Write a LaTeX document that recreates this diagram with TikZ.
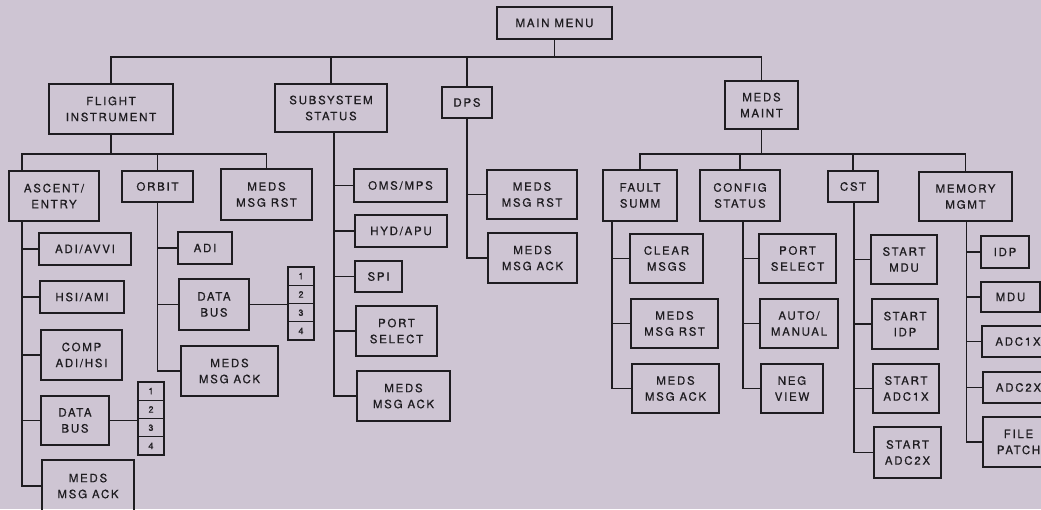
\documentclass[tikz,border=0pt]{standalone}
\usepackage{fontspec}
\setmainfont{TeX Gyre Heros}[LetterSpace=15,FakeBold=0.6]
\usetikzlibrary{calc}
\definecolor{bg}{RGB}{206,197,211}
\definecolor{ink}{RGB}{30,28,32}
\newcommand\mybox[6]{\node[box, minimum width={(#4)-(#2)}, minimum height={(#5)-(#3)}] (#1) at ({((#2)+(#4))/2},{((#3)+(#5))/2}) {#6};}
\begin{document}
\begin{tikzpicture}[x=1pt,y=-1pt,
  box/.style={draw=ink, line width=1.5pt, text=ink, align=center, inner sep=0pt, font=\fontsize{11.5}{16}\selectfont},
  numbox/.style={draw=ink, line width=1.2pt, text=ink, inner sep=0pt, minimum width=26, minimum height=18.25, font=\fontsize{9}{10}\selectfont},
  link/.style={draw=ink, line width=1.6pt}]
\useasboundingbox (0,0) rectangle (1041,509);
\fill[bg] (0,0) rectangle (1041,509);
\clip (0,0) rectangle (1041,509);
% level 0/1
\mybox{main}{497}{7}{612}{39}{MAIN MENU}
\mybox{fi}{49}{84}{173}{134}{FLIGHT\\INSTRUMENT}
\mybox{ss}{275}{84}{387}{132}{SUBSYSTEM\\STATUS}
\mybox{dps}{442}{87}{492}{118}{DPS}
\mybox{mm}{725}{81}{798}{129}{MEDS\\MAINT}
% flight instrument
\mybox{ae}{9}{171}{99}{221}{ASCENT/\\ENTRY}
\mybox{orb}{122}{171}{193}{202}{ORBIT}
\mybox{fmr}{221}{169}{312}{220}{MEDS\\MSG RST}
\mybox{adiavvi}{39}{233}{131}{265}{ADI/AVVI}
\mybox{hsi}{40}{281}{124}{313}{HSI/AMI}
\mybox{comp}{41}{330}{122}{380}{COMP\\ADI/HSI}
\mybox{dba}{41}{396}{109}{445}{DATA\\BUS}
\mybox{acka}{42}{460}{134}{512}{MEDS\\MSG ACK}
\mybox{adi}{178}{232}{232}{264}{ADI}
\mybox{dbb}{179}{279}{249}{330}{DATA\\BUS}
\mybox{ackb}{181}{346}{278}{396}{MEDS\\MSG ACK}
% number stacks
\node[numbox] (na1) at (151,391.125) {1};
\node[numbox] (na2) at (151,409.375) {2};
\node[numbox] (na3) at (151,427.625) {3};
\node[numbox] (na4) at (151,445.875) {4};
\node[numbox] (nb1) at (301,276.125) {1};
\node[numbox] (nb2) at (301,294.375) {2};
\node[numbox] (nb3) at (301,312.625) {3};
\node[numbox] (nb4) at (301,330.875) {4};
% subsystem status
\mybox{oms}{354}{169}{447}{202}{OMS/MPS}
\mybox{hyd}{355}{215}{447}{247}{HYD/APU}
\mybox{spi}{355}{261}{402}{292}{SPI}
\mybox{psa}{356}{306}{437}{356}{PORT\\SELECT}
\mybox{ackc}{357}{371}{450}{421}{MEDS\\MSG ACK}
% dps
\mybox{drst}{487}{170}{577}{219}{MEDS\\MSG RST}
\mybox{dack}{488}{233}{577}{283}{MEDS\\MSG ACK}
% meds maint
\mybox{fs}{603}{170}{677}{221}{FAULT\\SUMM}
\mybox{cs}{700}{170}{780}{221}{CONFIG\\STATUS}
\mybox{cst}{828}{171}{878}{202}{CST}
\mybox{mem}{919}{172}{1012}{221}{MEMORY\\MGMT}
\mybox{clr}{630}{234}{703}{283}{CLEAR\\MSGS}
\mybox{frst}{631}{299}{718}{348}{MEDS\\MSG RST}
\mybox{fack}{632}{364}{719}{413}{MEDS\\MSG ACK}
\mybox{psb}{759}{234}{836}{283}{PORT\\SELECT}
\mybox{auto}{760}{299}{838}{348}{AUTO/\\MANUAL}
\mybox{neg}{761}{364}{823}{413}{NEG\\VIEW}
\mybox{smdu}{871}{235}{937}{284}{START\\MDU}
\mybox{sidp}{872}{299}{938}{349}{START\\IDP}
\mybox{sadca}{873}{364}{939}{413}{START\\ADC1X}
\mybox{sadcb}{874}{427}{941}{478}{START\\ADC2X}
\mybox{idp}{981}{236}{1029}{268}{IDP}
\mybox{mdu}{981}{282}{1040}{312}{MDU}
\mybox{adca}{982}{326}{1054}{357}{ADC1X}
\mybox{adcb}{983}{372}{1054}{403}{ADC2X}
\mybox{fp}{983}{417}{1054}{467}{FILE\\PATCH}
% bus levels
\coordinate (b0) at (0,57);
\coordinate (b1) at (0,154);
% top level connectors
\draw[link] (main.south) -- (main.south |- b0);
\draw[link] (fi.north) -- (fi.north |- b0) -- (mm.north |- b0) -- (mm.north);
\draw[link] (ss.north) -- (ss.north |- b0);
\draw[link] (dps.north) -- (dps.north |- b0);
% flight instrument bus
\coordinate (aet) at ($(ae.north west)+(14,0)$);
\coordinate (aeb) at ($(ae.south west)+(14,0)$);
\draw[link] (fi.south) -- (fi.south |- b1);
\draw[link] (aet) -- (aet |- b1) -- (fmr.north |- b1) -- (fmr.north);
\draw[link] (orb.north) -- (orb.north |- b1);
\foreach \c in {adiavvi,hsi,comp,dba,acka} \draw[link] (aeb) |- (\c.west);
\foreach \c in {adi,dbb,ackb} \draw[link] (orb.south) |- (\c.west);
\draw[link] (dba.east) -- (dba.east -| na2.west);
\draw[link] (dbb.east) -- (dbb.east -| nb3.west);
% subsystem status
\coordinate (sst) at ($(ss.south)+(3,0)$);
\foreach \c in {oms,hyd,spi,psa,ackc} \draw[link] (sst) |- (\c.west);
% dps
\foreach \c in {drst,dack} \draw[link] (dps.south) |- (\c.west);
% meds maint bus
\draw[link] (mm.south) -- (mm.south |- b1);
\draw[link] (fs.north) -- (fs.north |- b1) -- (mem.north |- b1) -- (mem.north);
\draw[link] (cs.north) -- (cs.north |- b1);
\draw[link] (cst.north) -- (cst.north |- b1);
\coordinate (fst) at ($(fs.south west)+(10,0)$);
\foreach \c in {clr,frst,fack} \draw[link] (fst) |- (\c.west);
\coordinate (cstt) at ($(cs.south)+(3,0)$);
\foreach \c in {psb,auto,neg} \draw[link] (cstt) |- (\c.west);
\coordinate (ctt) at ($(cst.south)+(1,0)$);
\foreach \c in {smdu,sidp,sadca,sadcb} \draw[link] (ctt) |- (\c.west);
\coordinate (mmt) at ($(mem.south)+(1,0)$);
\foreach \c in {idp,mdu,adca,adcb,fp} \draw[link] (mmt) |- (\c.west);
\end{tikzpicture}
\end{document}
